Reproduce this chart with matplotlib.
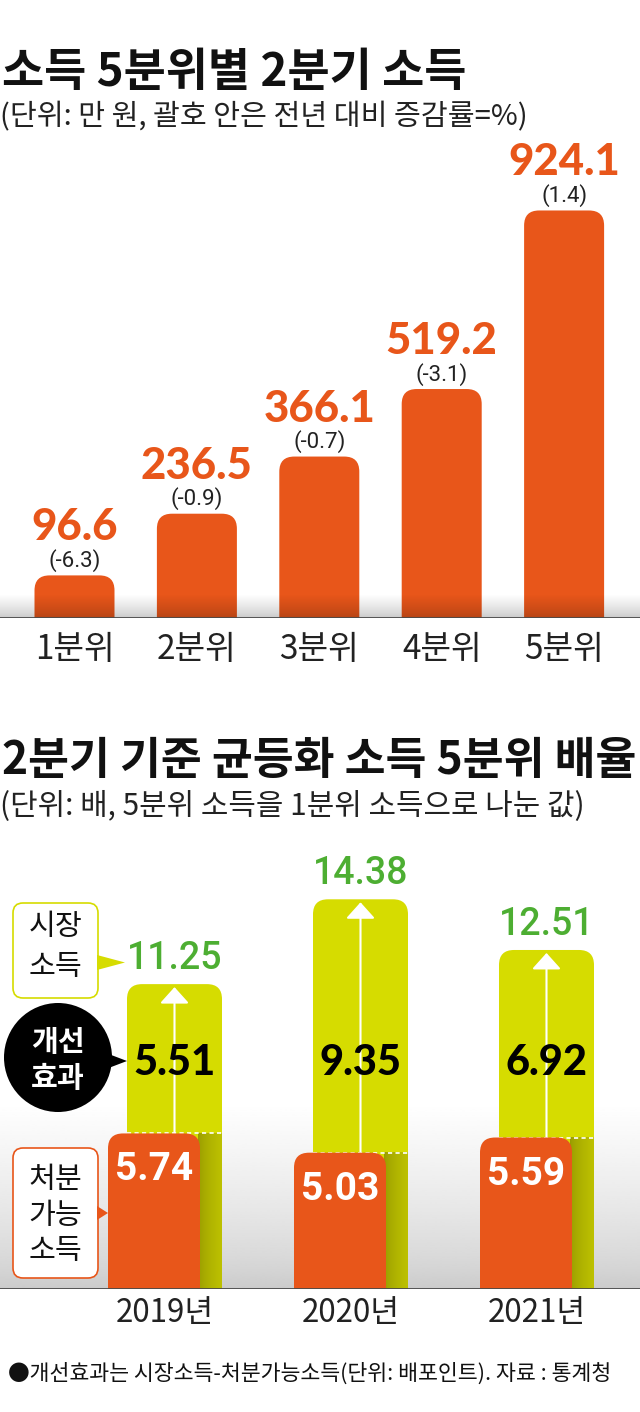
import numpy as np
import matplotlib
matplotlib.use('Agg')
import matplotlib.pyplot as plt
from matplotlib.patches import FancyBboxPatch, Ellipse, Polygon, FancyArrowPatch

plt.rcParams['font.family'] = ['Noto Sans CJK KR', 'DejaVu Sans']

# ---------------- data ----------------
quintiles = ['1분위', '2분위', '3분위', '4분위', '5분위']
income = [96.6, 236.5, 366.1, 519.2, 924.1]
change = [-6.3, -0.9, -0.7, -3.1, 1.4]

years = ['2019년', '2020년', '2021년']
market = [11.25, 14.38, 12.51]
disposable = [5.74, 5.03, 5.59]
improvement = [5.51, 9.35, 6.92]

title1 = '소득 5분위별 2분기 소득'
sub1 = '(단위: 만 원, 괄호 안은 전년 대비 증감률=%)'
title2 = '2분기 기준 균등화 소득 5분위 배율'
sub2 = '(단위: 배, 5분위 소득을 1분위 소득으로 나눈 값)'
footer = '●개선효과는 시장소득-처분가능소득(단위: 배포인트). 자료 : 통계청'
label_market = ['시장', '소득']
label_effect = ['개선', '효과']
label_disp = ['처분', '가능', '소득']

# ---------------- style ----------------
ORANGE = '#E8561A'
YG = '#D6DC00'
GREEN = '#4DAE32'
HEAVY = ['Lato', 'DejaVu Sans']
W, H = 640, 1412

fig = plt.figure(figsize=(W / 100, H / 100), dpi=100)
fig.patch.set_facecolor('white')


def fx(px):
    return px / W


def fy(py):
    return 1 - py / H


def rounded_bar(ax, xc, width, top, r_px, ppx, ppy, color, z):
    r = r_px / ppx
    aspect = ppx / ppy
    ry = r * aspect
    p = FancyBboxPatch((xc - width / 2, -2 * ry), width, top + 2 * ry,
                       boxstyle=f'round,pad=0,rounding_size={r}',
                       mutation_aspect=aspect, fc=color, ec='none', zorder=z)
    ax.add_patch(p)


def grad(ax, x0, x1, y0, y1, c0, c1, a0, a1, z, power=1.0, horizontal=False):
    n = 256
    t = np.linspace(0, 1, n) ** power
    c0 = np.array(matplotlib.colors.to_rgb(c0))
    c1 = np.array(matplotlib.colors.to_rgb(c1))
    col = c0[None, :] + (c1 - c0)[None, :] * t[:, None]
    alp = a0 + (a1 - a0) * t
    rgba = np.concatenate([col, alp[:, None]], axis=1)
    if horizontal:
        rgba = rgba[None, :, :]
    else:
        rgba = rgba[:, None, :]
    ax.imshow(rgba, extent=(x0, x1, y0, y1), origin='lower', aspect='auto',
              zorder=z, interpolation='bilinear')


def clean(ax):
    for s in ax.spines.values():
        s.set_visible(False)
    ax.set_yticks([])
    ax.set_facecolor('none')


# ---------------- top chart ----------------
ppx1, ppy1, x01 = 122.4, 0.441, 74.5
ax1 = fig.add_axes([0, fy(618), 1, 488 / H])
xl1 = (-x01 / ppx1, (W - x01) / ppx1)
yl1 = (0, 488 / ppy1)
# shading near the base line (over bars and background)
grad(ax1, xl1[0], xl1[1], 0, 24 / ppy1, 'black', 'black', 0.22, 0.0, 4, power=0.8)
bw1 = 80 / ppx1
for i, (v, c) in enumerate(zip(income, change)):
    rounded_bar(ax1, i, bw1, v, 15, ppx1, ppy1, ORANGE, 3)
    ax1.text(i, v + 35 / ppy1, f'{v:.1f}', ha='center', va='baseline',
             fontsize=31.5, fontweight='black', family=HEAVY, color=ORANGE, zorder=5)
    ax1.text(i, v + 15 / ppy1, f'({c:.1f})', ha='center', va='center',
             fontsize=16, family=['Roboto', 'DejaVu Sans'], color='#222222', zorder=5)
ax1.axhline(0, color='#4a4a4a', lw=1.3, zorder=6)
ax1.set_xlim(*xl1)
ax1.set_ylim(*yl1)
ax1.set_xticks(range(len(quintiles)), quintiles, fontsize=24, color='#222222')
ax1.tick_params(axis='x', length=0, pad=10)
clean(ax1)

# ---------------- bottom chart ----------------
ppx2, ppy2, x02 = 186.0, 27.1, 165
ax2 = fig.add_axes([0, fy(1289), 1, 449 / H])
xl2 = (-x02 / ppx2, (W - x02) / ppx2)
yl2 = (0, 449 / ppy2)
grad(ax2, xl2[0], xl2[1], 0, 185 / ppy2, '#808080', '#808080', 0.42, 0.0, 0, power=0.7)
ow, oo = 92 / ppx2, -11 / ppx2
yw, yo = 95 / ppx2, 9.5 / ppx2
for i, (m, d, imp) in enumerate(zip(market, disposable, improvement)):
    xy = i + yo
    xo = i + oo
    rounded_bar(ax2, xy, yw, m, 15, ppx2, ppy2, YG, 2)
    # shadow of the disposable-income bar on the market-income bar
    grad(ax2, xo + ow / 2 - 0.01, xy + yw / 2, 0, d, '#959800', '#BDC100', 1, 1, 2.5,
         horizontal=True, power=0.6)
    ax2.plot([xy - yw / 2, xy + yw / 2], [d, d], color='white', lw=1.2,
             ls=(0, (2.5, 2)), zorder=3.2, solid_capstyle='butt')
    arr = FancyArrowPatch((xy, d), (xy, m - 3 / ppy2),
                          arrowstyle='-|>,head_length=1.0,head_width=0.9',
                          mutation_scale=10, color='white', lw=1.5,
                          shrinkA=0, shrinkB=0, zorder=3.3)
    ax2.add_patch(arr)
    rounded_bar(ax2, xo, ow, d, 15, ppx2, ppy2, ORANGE, 4)
    ax2.text(xo, d - 47 / ppy2, f'{d:.2f}', ha='center', va='baseline', fontsize=28,
             fontweight='bold', family=['Roboto', 'DejaVu Sans'], color='white', zorder=6)
    ax2.text(xy, m + 15 / ppy2, f'{m:.2f}', ha='center', va='baseline', fontsize=27,
             fontweight='medium', family=['Roboto', 'DejaVu Sans'], color=GREEN, zorder=6)
    ax2.text(xy, 7.9, f'{imp:.2f}', ha='center', va='baseline', fontsize=30,
             fontweight='black', family=HEAVY, color='black', zorder=6)
ax2.axhline(0, color='#4a4a4a', lw=1.3, zorder=7)
ax2.set_xlim(*xl2)
ax2.set_ylim(*yl2)
ax2.set_xticks(range(len(years)), years, fontsize=22.5, color='#222222')
ax2.tick_params(axis='x', length=0, pad=6)
clean(ax2)

# ---------------- overlay (legend call-outs) ----------------
ax3 = fig.add_axes([0, 0, 1, 1], zorder=10)
ax3.set_xlim(0, W)
ax3.set_ylim(H, 0)
ax3.axis('off')
ax3.set_facecolor('none')

ax3.add_patch(FancyBboxPatch((13, 903), 85, 95, boxstyle='round,pad=0,rounding_size=10',
                             fc='white', ec=YG, lw=1.2))
ax3.add_patch(Polygon([(97, 955), (97, 970), (125, 962.5)], closed=True, fc=YG, ec='none'))
for t, yy in zip(label_market, [927, 967]):
    ax3.text(55.5, yy, t, ha='center', va='center', fontsize=21, color='#111111')

ax3.add_patch(Ellipse((58, 1057.5), 108, 109, fc='black', ec='none'))
ax3.add_patch(Polygon([(106, 1053), (106, 1069), (127, 1061)], closed=True, fc='black', ec='none'))
for t, yy in zip(label_effect, [1042, 1078]):
    ax3.text(58, yy, t, ha='center', va='center', fontsize=21, fontweight='bold', color='white')

ax3.add_patch(FancyBboxPatch((13, 1148), 85, 130, boxstyle='round,pad=0,rounding_size=10',
                             fc='white', ec=ORANGE, lw=1.2))
ax3.add_patch(Polygon([(97, 1206), (97, 1220), (108, 1213)], closed=True, fc=ORANGE, ec='none'))
for t, yy in zip(label_disp, [1180, 1216, 1251]):
    ax3.text(55.5, yy, t, ha='center', va='center', fontsize=21, color='#111111')

# ---------------- titles ----------------
fig.text(fx(2), fy(73), title1, fontsize=33, fontweight='bold', va='center', ha='left', color='#111111')
fig.text(fx(0), fy(117), sub1, fontsize=21, va='center', ha='left', color='#222222')
fig.text(fx(2), fy(761), title2, fontsize=32, fontweight='bold', va='center', ha='left', color='#111111')
fig.text(fx(0), fy(807), sub2, fontsize=21.5, va='center', ha='left', color='#222222')
fig.text(fx(8), fy(1374), footer, fontsize=15.6, va='center', ha='left', color='#111111')

fig.savefig('out.png', dpi=100, facecolor='white')
